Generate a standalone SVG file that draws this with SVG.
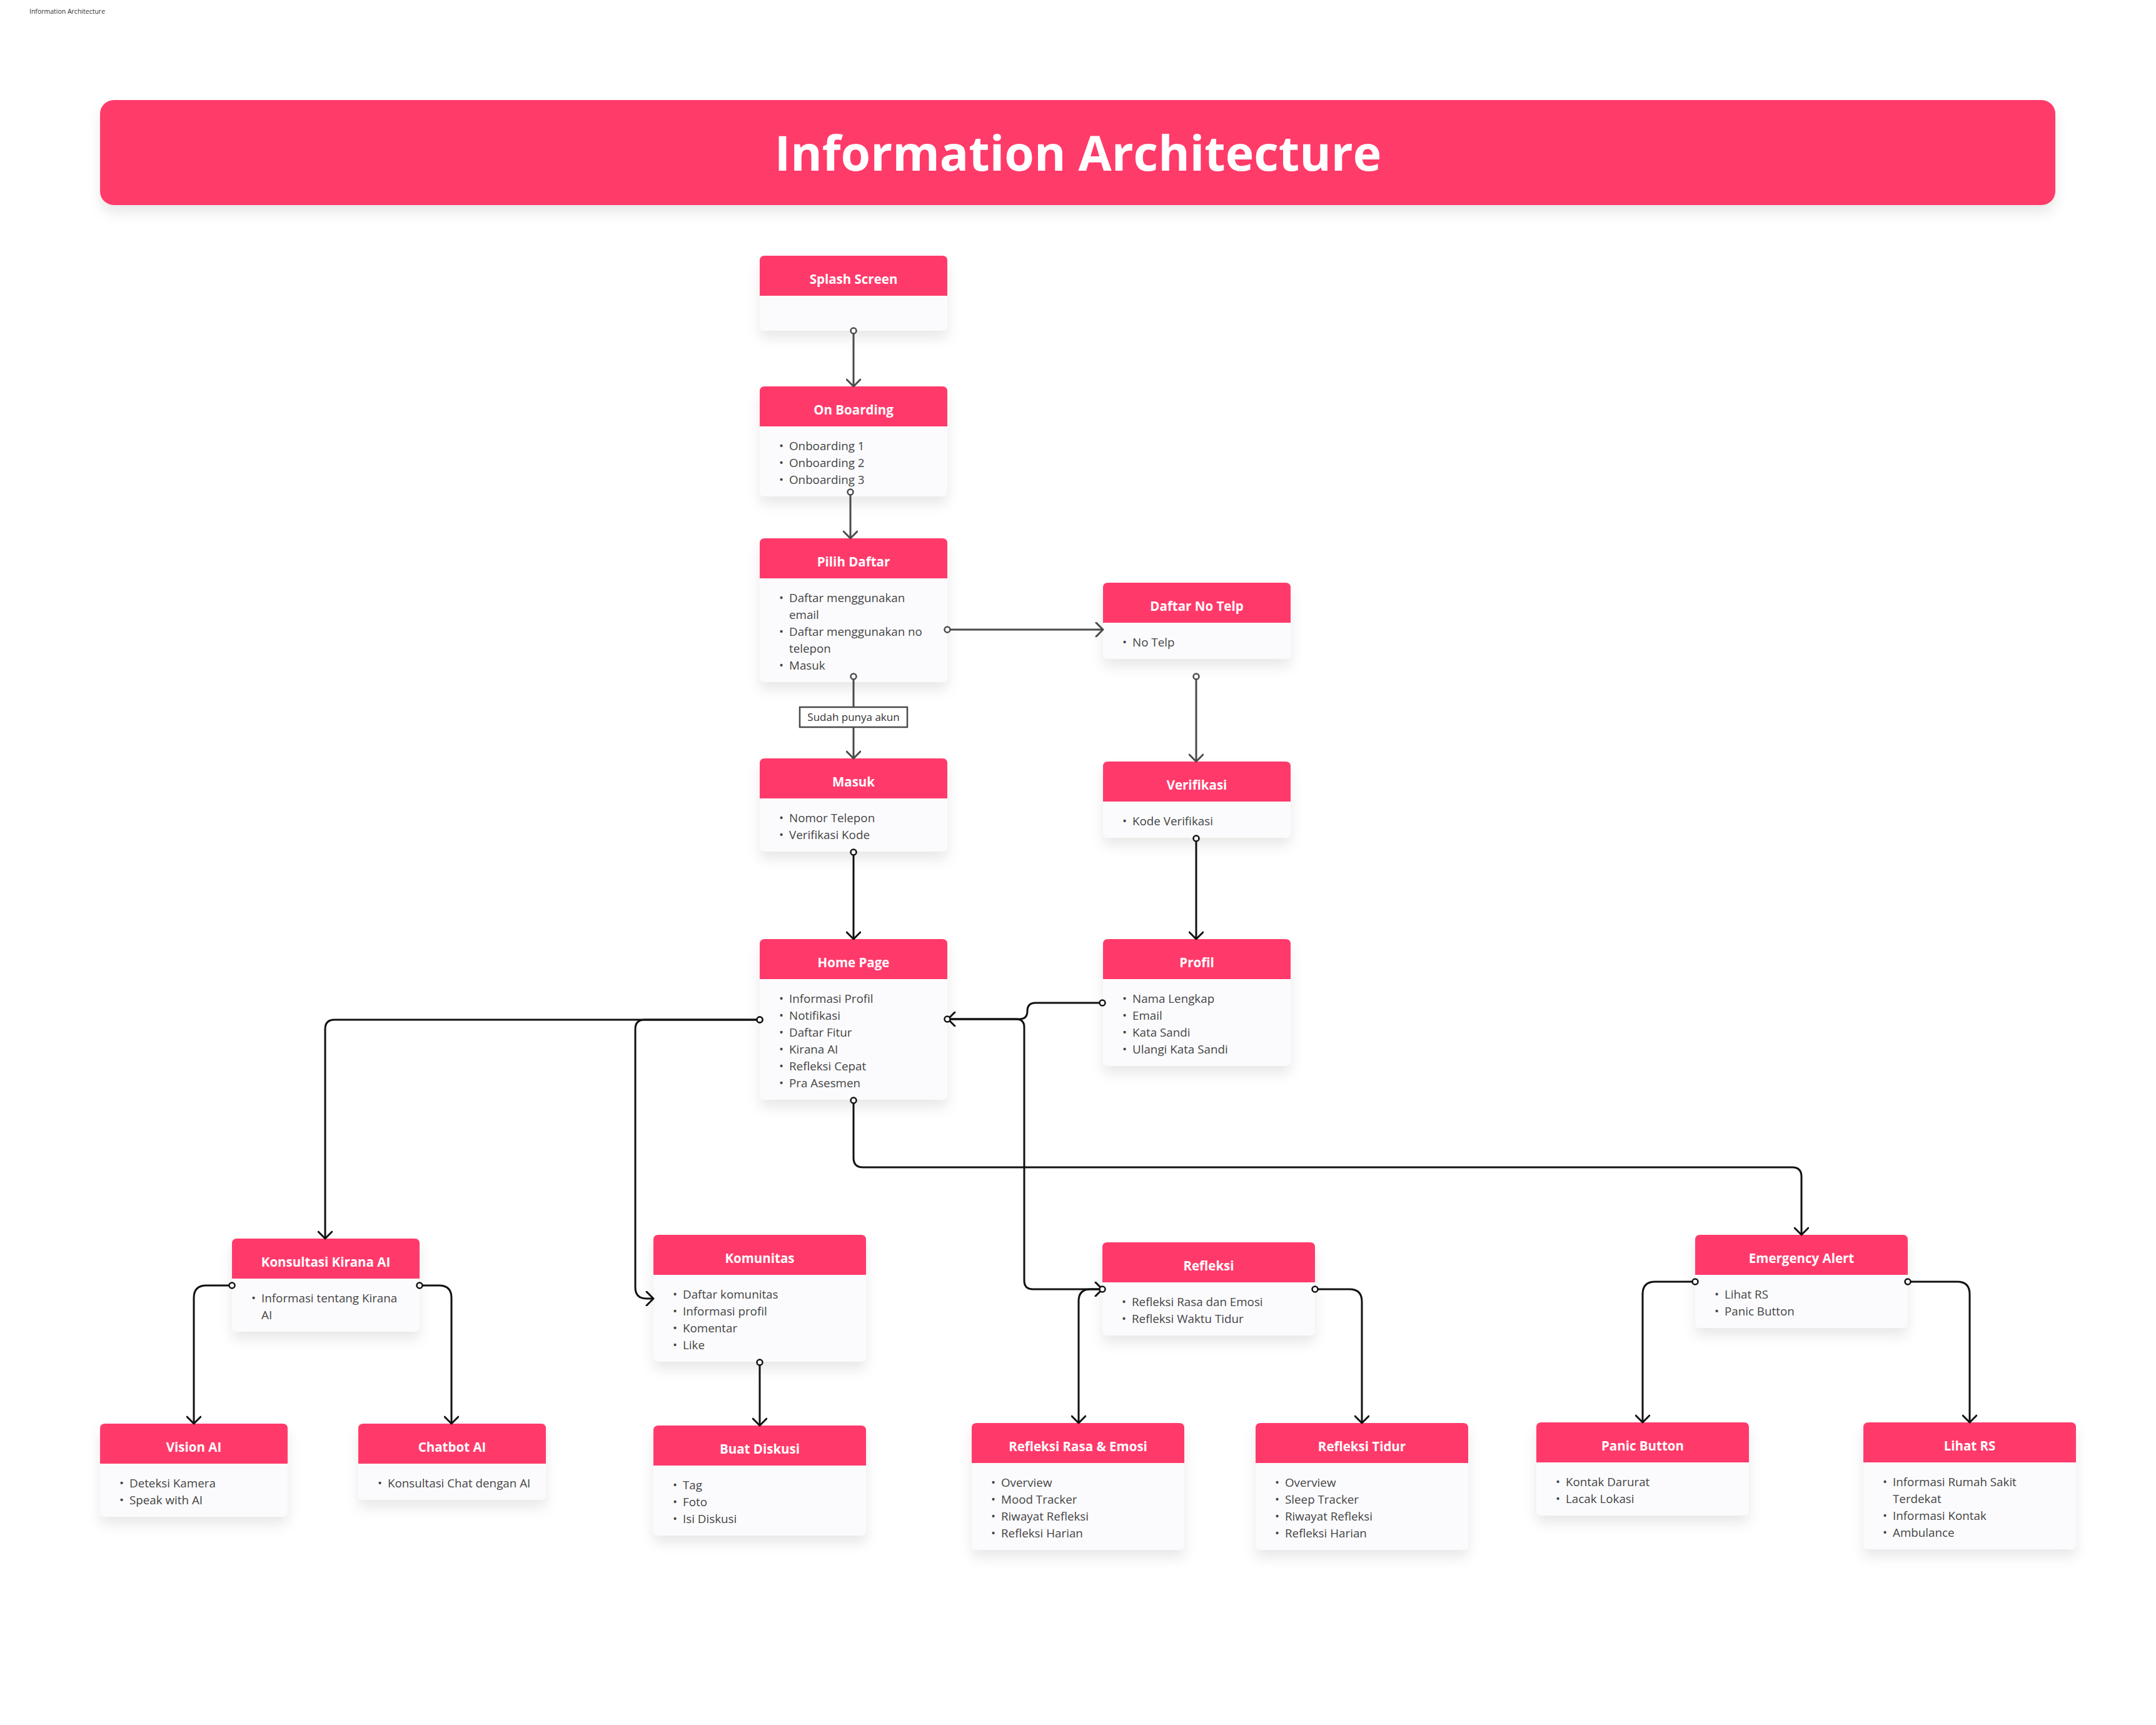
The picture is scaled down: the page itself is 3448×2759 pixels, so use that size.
<svg xmlns="http://www.w3.org/2000/svg" width="3448" height="2759" viewBox="0 0 3448 2759">
<style>
.bg{fill:#FBFBFD;filter:url(#sh)}
.hd{fill:#FF3A6B}
.ht{font-family:"Open Sans","Noto Sans",sans-serif;font-weight:700;font-size:20.5px;fill:#FFFFFF;text-anchor:middle}
.it{font-family:"Open Sans","Noto Sans",sans-serif;font-size:18.8px;fill:#444444}
.c1{fill:none;stroke:#4A4A4A;stroke-width:3;marker-start:url(#ocG);marker-end:url(#arG)}
.c2{fill:none;stroke:#111111;stroke-width:3;marker-start:url(#ocB);marker-end:url(#arB)}
</style>
<defs>
<filter id="sh" x="-20%" y="-20%" width="140%" height="160%">
<feDropShadow dx="0" dy="12" stdDeviation="10" flood-color="#000" flood-opacity="0.09"/>
</filter>
<marker id="arG" viewBox="0 0 24 24" markerWidth="24" markerHeight="24" refX="21" refY="12" orient="auto" markerUnits="userSpaceOnUse">
<path d="M10 1L21 12L10 23" fill="none" stroke="#4A4A4A" stroke-width="3" stroke-linecap="round" stroke-linejoin="round"/>
</marker>
<marker id="arB" viewBox="0 0 24 24" markerWidth="24" markerHeight="24" refX="21" refY="12" orient="auto" markerUnits="userSpaceOnUse">
<path d="M10 1L21 12L10 23" fill="none" stroke="#111111" stroke-width="3" stroke-linecap="round" stroke-linejoin="round"/>
</marker>
<marker id="ocG" viewBox="0 0 14 14" markerWidth="14" markerHeight="14" refX="7" refY="7" markerUnits="userSpaceOnUse">
<circle cx="7" cy="7" r="4.5" fill="#FFFFFF" stroke="#4A4A4A" stroke-width="2.5"/>
</marker>
<marker id="ocB" viewBox="0 0 14 14" markerWidth="14" markerHeight="14" refX="7" refY="7" markerUnits="userSpaceOnUse">
<circle cx="7" cy="7" r="4.5" fill="#FFFFFF" stroke="#111111" stroke-width="2.5"/>
</marker>
</defs>
<rect width="3448" height="2759" fill="#FFFFFF"/>
<text x="47" y="22" font-family="Open Sans, Noto Sans, sans-serif" font-size="10.5" fill="#333333">Information Architecture</text>
<g id="banner">
<rect x="160" y="160" width="3127" height="168" rx="22" fill="#FF3A6B" filter="url(#sh)"/>
<text x="1724" y="273" font-family="Open Sans, Noto Sans, sans-serif" font-weight="700" font-size="77" fill="#FFFFFF" text-anchor="middle">Information Architecture</text>
</g>

<g id="n-splash">
<rect class="bg" x="1215" y="409" width="300" height="120" rx="8"/>
<path class="hd" d="M1215 473V417Q1215 409 1223 409H1507Q1515 409 1515 417V473Z"/>
<text class="ht" x="1365" y="454">Splash Screen</text>
</g>
<g id="n-onboarding">
<rect class="bg" x="1215" y="618" width="300" height="176" rx="8"/>
<path class="hd" d="M1215 682V626Q1215 618 1223 618H1507Q1515 618 1515 626V682Z"/>
<text class="ht" x="1365" y="663">On Boarding</text>
<text class="it" x="1246" y="720">•</text><text class="it" x="1262" y="720">Onboarding 1</text>
<text class="it" x="1246" y="747">•</text><text class="it" x="1262" y="747">Onboarding 2</text>
<text class="it" x="1246" y="774">•</text><text class="it" x="1262" y="774">Onboarding 3</text>
</g>
<g id="n-pilih">
<rect class="bg" x="1215" y="861" width="300" height="230" rx="8"/>
<path class="hd" d="M1215 925V869Q1215 861 1223 861H1507Q1515 861 1515 869V925Z"/>
<text class="ht" x="1365" y="906">Pilih Daftar</text>
<text class="it" x="1246" y="963">•</text><text class="it" x="1262" y="963">Daftar menggunakan</text>
<text class="it" x="1262" y="990">email</text>
<text class="it" x="1246" y="1017">•</text><text class="it" x="1262" y="1017">Daftar menggunakan no</text>
<text class="it" x="1262" y="1044">telepon</text>
<text class="it" x="1246" y="1071">•</text><text class="it" x="1262" y="1071">Masuk</text>
</g>
<g id="n-daftarnotelp">
<rect class="bg" x="1764" y="932" width="300" height="122" rx="8"/>
<path class="hd" d="M1764 996V940Q1764 932 1772 932H2056Q2064 932 2064 940V996Z"/>
<text class="ht" x="1914" y="977">Daftar No Telp</text>
<text class="it" x="1795" y="1034">•</text><text class="it" x="1811" y="1034">No Telp</text>
</g>
<g id="n-masuk">
<rect class="bg" x="1215" y="1213" width="300" height="149" rx="8"/>
<path class="hd" d="M1215 1277V1221Q1215 1213 1223 1213H1507Q1515 1213 1515 1221V1277Z"/>
<text class="ht" x="1365" y="1258">Masuk</text>
<text class="it" x="1246" y="1315">•</text><text class="it" x="1262" y="1315">Nomor Telepon</text>
<text class="it" x="1246" y="1342">•</text><text class="it" x="1262" y="1342">Verifikasi Kode</text>
</g>
<g id="n-verifikasi">
<rect class="bg" x="1764" y="1218" width="300" height="122" rx="8"/>
<path class="hd" d="M1764 1282V1226Q1764 1218 1772 1218H2056Q2064 1218 2064 1226V1282Z"/>
<text class="ht" x="1914" y="1263">Verifikasi</text>
<text class="it" x="1795" y="1320">•</text><text class="it" x="1811" y="1320">Kode Verifikasi</text>
</g>
<g id="n-home">
<rect class="bg" x="1215" y="1502" width="300" height="257" rx="8"/>
<path class="hd" d="M1215 1566V1510Q1215 1502 1223 1502H1507Q1515 1502 1515 1510V1566Z"/>
<text class="ht" x="1365" y="1547">Home Page</text>
<text class="it" x="1246" y="1604">•</text><text class="it" x="1262" y="1604">Informasi Profil</text>
<text class="it" x="1246" y="1631">•</text><text class="it" x="1262" y="1631">Notifikasi</text>
<text class="it" x="1246" y="1658">•</text><text class="it" x="1262" y="1658">Daftar Fitur</text>
<text class="it" x="1246" y="1685">•</text><text class="it" x="1262" y="1685">Kirana AI</text>
<text class="it" x="1246" y="1712">•</text><text class="it" x="1262" y="1712">Refleksi Cepat</text>
<text class="it" x="1246" y="1739">•</text><text class="it" x="1262" y="1739">Pra Asesmen</text>
</g>
<g id="n-profil">
<rect class="bg" x="1764" y="1502" width="300" height="203" rx="8"/>
<path class="hd" d="M1764 1566V1510Q1764 1502 1772 1502H2056Q2064 1502 2064 1510V1566Z"/>
<text class="ht" x="1914" y="1547">Profil</text>
<text class="it" x="1795" y="1604">•</text><text class="it" x="1811" y="1604">Nama Lengkap</text>
<text class="it" x="1795" y="1631">•</text><text class="it" x="1811" y="1631">Email</text>
<text class="it" x="1795" y="1658">•</text><text class="it" x="1811" y="1658">Kata Sandi</text>
<text class="it" x="1795" y="1685">•</text><text class="it" x="1811" y="1685">Ulangi Kata Sandi</text>
</g>
<g id="n-konsultasi">
<rect class="bg" x="371" y="1981" width="300" height="149" rx="8"/>
<path class="hd" d="M371 2045V1989Q371 1981 379 1981H663Q671 1981 671 1989V2045Z"/>
<text class="ht" x="521" y="2026">Konsultasi Kirana AI</text>
<text class="it" x="402" y="2083">•</text><text class="it" x="418" y="2083">Informasi tentang Kirana</text>
<text class="it" x="418" y="2110">AI</text>
</g>
<g id="n-vision">
<rect class="bg" x="160" y="2277" width="300" height="149" rx="8"/>
<path class="hd" d="M160 2341V2285Q160 2277 168 2277H452Q460 2277 460 2285V2341Z"/>
<text class="ht" x="310" y="2322">Vision AI</text>
<text class="it" x="191" y="2379">•</text><text class="it" x="207" y="2379">Deteksi Kamera</text>
<text class="it" x="191" y="2406">•</text><text class="it" x="207" y="2406">Speak with AI</text>
</g>
<g id="n-chatbot">
<rect class="bg" x="573" y="2277" width="300" height="122" rx="8"/>
<path class="hd" d="M573 2341V2285Q573 2277 581 2277H865Q873 2277 873 2285V2341Z"/>
<text class="ht" x="723" y="2322">Chatbot AI</text>
<text class="it" x="604" y="2379">•</text><text class="it" x="620" y="2379">Konsultasi Chat dengan AI</text>
</g>
<g id="n-komunitas">
<rect class="bg" x="1045" y="1975" width="340" height="203" rx="8"/>
<path class="hd" d="M1045 2039V1983Q1045 1975 1053 1975H1377Q1385 1975 1385 1983V2039Z"/>
<text class="ht" x="1215" y="2020">Komunitas</text>
<text class="it" x="1076" y="2077">•</text><text class="it" x="1092" y="2077">Daftar komunitas</text>
<text class="it" x="1076" y="2104">•</text><text class="it" x="1092" y="2104">Informasi profil</text>
<text class="it" x="1076" y="2131">•</text><text class="it" x="1092" y="2131">Komentar</text>
<text class="it" x="1076" y="2158">•</text><text class="it" x="1092" y="2158">Like</text>
</g>
<g id="n-buatdiskusi">
<rect class="bg" x="1045" y="2280" width="340" height="176" rx="8"/>
<path class="hd" d="M1045 2344V2288Q1045 2280 1053 2280H1377Q1385 2280 1385 2288V2344Z"/>
<text class="ht" x="1215" y="2325">Buat Diskusi</text>
<text class="it" x="1076" y="2382">•</text><text class="it" x="1092" y="2382">Tag</text>
<text class="it" x="1076" y="2409">•</text><text class="it" x="1092" y="2409">Foto</text>
<text class="it" x="1076" y="2436">•</text><text class="it" x="1092" y="2436">Isi Diskusi</text>
</g>
<g id="n-refleksi">
<rect class="bg" x="1763" y="1987" width="340" height="149" rx="8"/>
<path class="hd" d="M1763 2051V1995Q1763 1987 1771 1987H2095Q2103 1987 2103 1995V2051Z"/>
<text class="ht" x="1933" y="2032">Refleksi</text>
<text class="it" x="1794" y="2089">•</text><text class="it" x="1810" y="2089">Refleksi Rasa dan Emosi</text>
<text class="it" x="1794" y="2116">•</text><text class="it" x="1810" y="2116">Refleksi Waktu Tidur</text>
</g>
<g id="n-refleksirasa">
<rect class="bg" x="1554" y="2276" width="340" height="203" rx="8"/>
<path class="hd" d="M1554 2340V2284Q1554 2276 1562 2276H1886Q1894 2276 1894 2284V2340Z"/>
<text class="ht" x="1724" y="2321">Refleksi Rasa &amp; Emosi</text>
<text class="it" x="1585" y="2378">•</text><text class="it" x="1601" y="2378">Overview</text>
<text class="it" x="1585" y="2405">•</text><text class="it" x="1601" y="2405">Mood Tracker</text>
<text class="it" x="1585" y="2432">•</text><text class="it" x="1601" y="2432">Riwayat Refleksi</text>
<text class="it" x="1585" y="2459">•</text><text class="it" x="1601" y="2459">Refleksi Harian</text>
</g>
<g id="n-refleksitidur">
<rect class="bg" x="2008" y="2276" width="340" height="203" rx="8"/>
<path class="hd" d="M2008 2340V2284Q2008 2276 2016 2276H2340Q2348 2276 2348 2284V2340Z"/>
<text class="ht" x="2178" y="2321">Refleksi Tidur</text>
<text class="it" x="2039" y="2378">•</text><text class="it" x="2055" y="2378">Overview</text>
<text class="it" x="2039" y="2405">•</text><text class="it" x="2055" y="2405">Sleep Tracker</text>
<text class="it" x="2039" y="2432">•</text><text class="it" x="2055" y="2432">Riwayat Refleksi</text>
<text class="it" x="2039" y="2459">•</text><text class="it" x="2055" y="2459">Refleksi Harian</text>
</g>
<g id="n-emergency">
<rect class="bg" x="2711" y="1975" width="340" height="149" rx="8"/>
<path class="hd" d="M2711 2039V1983Q2711 1975 2719 1975H3043Q3051 1975 3051 1983V2039Z"/>
<text class="ht" x="2881" y="2020">Emergency Alert</text>
<text class="it" x="2742" y="2077">•</text><text class="it" x="2758" y="2077">Lihat RS</text>
<text class="it" x="2742" y="2104">•</text><text class="it" x="2758" y="2104">Panic Button</text>
</g>
<g id="n-panic">
<rect class="bg" x="2457" y="2275" width="340" height="149" rx="8"/>
<path class="hd" d="M2457 2339V2283Q2457 2275 2465 2275H2789Q2797 2275 2797 2283V2339Z"/>
<text class="ht" x="2627" y="2320">Panic Button</text>
<text class="it" x="2488" y="2377">•</text><text class="it" x="2504" y="2377">Kontak Darurat</text>
<text class="it" x="2488" y="2404">•</text><text class="it" x="2504" y="2404">Lacak Lokasi</text>
</g>
<g id="n-lihatrs">
<rect class="bg" x="2980" y="2275" width="340" height="203" rx="8"/>
<path class="hd" d="M2980 2339V2283Q2980 2275 2988 2275H3312Q3320 2275 3320 2283V2339Z"/>
<text class="ht" x="3150" y="2320">Lihat RS</text>
<text class="it" x="3011" y="2377">•</text><text class="it" x="3027" y="2377">Informasi Rumah Sakit</text>
<text class="it" x="3027" y="2404">Terdekat</text>
<text class="it" x="3011" y="2431">•</text><text class="it" x="3027" y="2431">Informasi Kontak</text>
<text class="it" x="3011" y="2458">•</text><text class="it" x="3027" y="2458">Ambulance</text>
</g>

<g id="connectors">
<path class="c1" d="M1365 529V618"/>
<path class="c1" d="M1360 787V861"/>
<path class="c1" d="M1515 1007H1764"/>
<path class="c1" d="M1365 1082V1213"/>
<path class="c1" d="M1913 1082V1218"/>
<path class="c2" d="M1365 1363V1502"/>
<path class="c2" d="M1913 1341V1502"/>
<path class="c2" d="M1763 1604H1656Q1643 1604 1643 1617Q1643 1630 1630 1630H1516"/>
<path class="c2" d="M1515 1630H1625Q1638 1630 1638 1643V2048Q1638 2062 1652 2062H1763"/>
<path class="c2" d="M1215 1631H535Q520 1631 520 1646V1981"/>
<path class="c2" d="M1215 1631H1031Q1016 1631 1016 1646V2059Q1016 2077 1034 2077H1045"/>
<path class="c2" d="M1365 1760V1852Q1365 1867 1380 1867H2866Q2881 1867 2881 1882V1975"/>
<path class="c2" d="M371 2056H330Q310 2056 310 2076V2277"/>
<path class="c2" d="M671 2056H702Q722 2056 722 2076V2277"/>
<path class="c2" d="M1215 2179V2280"/>
<path class="c2" d="M1763 2062H1744Q1725 2062 1725 2081V2276"/>
<path class="c2" d="M2103 2062H2158Q2178 2062 2178 2082V2276"/>
<path class="c2" d="M2711 2050H2647Q2627 2050 2627 2070V2275"/>
<path class="c2" d="M3051 2050H3130Q3150 2050 3150 2070V2275"/>
<g id="label-sudah">
<rect x="1279" y="1131" width="172" height="32" fill="#FFFFFF" stroke="#4A4A4A" stroke-width="2.5"/>
<text x="1365" y="1153" font-family="Open Sans, Noto Sans, sans-serif" font-size="17" fill="#333333" text-anchor="middle">Sudah punya akun</text>
</g>
</g>
</svg>
